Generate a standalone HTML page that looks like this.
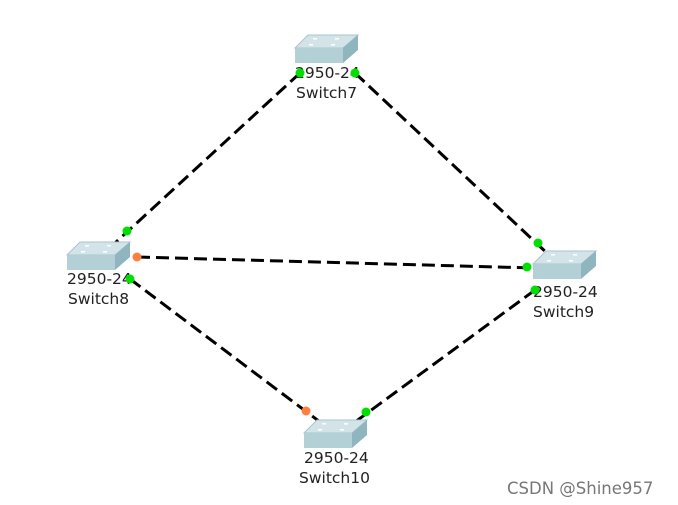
<!DOCTYPE html>
<html><head><meta charset="utf-8"><style>
html,body{margin:0;padding:0;background:#fff;}
svg{display:block;}
text{font-family:"DejaVu Sans","Liberation Sans",sans-serif;font-size:15.5px;fill:#222;}
</style></head><body>
<svg width="678" height="505" viewBox="0 0 678 505" xmlns="http://www.w3.org/2000/svg">
<defs>
<g id="sw">
<polygon points="0,0 13,-13 63,-13 48,0" fill="#d3e4e8" stroke="#a9c6ce" stroke-width="1"/>
<rect x="0" y="0" width="48" height="15" fill="#b4d0d7"/>
<polygon points="48,0 63,-13 63,2 48,15" fill="#8fb5bf"/>
<rect x="18" y="-10" width="4" height="1.5" fill="#fff"/>
<rect x="40" y="-10" width="4" height="1.5" fill="#fff"/>
<rect x="14" y="-4" width="4" height="1.5" fill="#fff"/>
<rect x="36" y="-4" width="4" height="1.5" fill="#fff"/>
</g>
</defs>
<g stroke="#000" stroke-width="3" stroke-dasharray="13,6" fill="none">
<line x1="300" y1="73" x2="115" y2="243"/>
<line x1="355" y1="73" x2="549" y2="255"/>
<line x1="137" y1="257" x2="533" y2="268"/>
<line x1="130" y1="279" x2="320" y2="422"/>
<line x1="535" y1="290" x2="355" y2="422"/>
</g>
<use href="#sw" x="295" y="48"/>
<use href="#sw" x="67" y="255"/>
<use href="#sw" x="533" y="264"/>
<use href="#sw" x="304" y="433"/>
<text x="295" y="78">2950-24</text><text x="296" y="98">Switch7</text>
<text x="67" y="284">2950-24</text><text x="68" y="304">Switch8</text>
<text x="533" y="297">2950-24</text><text x="533" y="317">Switch9</text>
<text x="304" y="463">2950-24</text><text x="299" y="483">Switch10</text>
<g fill="#00e000">
<circle cx="300" cy="73" r="4.5"/><circle cx="355" cy="73" r="4.5"/>
<circle cx="127" cy="231" r="4.5"/><circle cx="538" cy="243" r="4.5"/>
<circle cx="527" cy="267" r="4.5"/><circle cx="535" cy="290" r="4.5"/>
<circle cx="130" cy="279" r="4.5"/><circle cx="366" cy="412" r="4.5"/>
</g>
<g fill="#ff7f40">
<circle cx="137" cy="257" r="4.5"/><circle cx="306" cy="411" r="4.5"/>
</g>
<text x="507" y="494" style="font-size:16.5px;fill:#777;font-family:'DejaVu Sans',sans-serif">CSDN @Shine957</text>
</svg>
</body></html>
